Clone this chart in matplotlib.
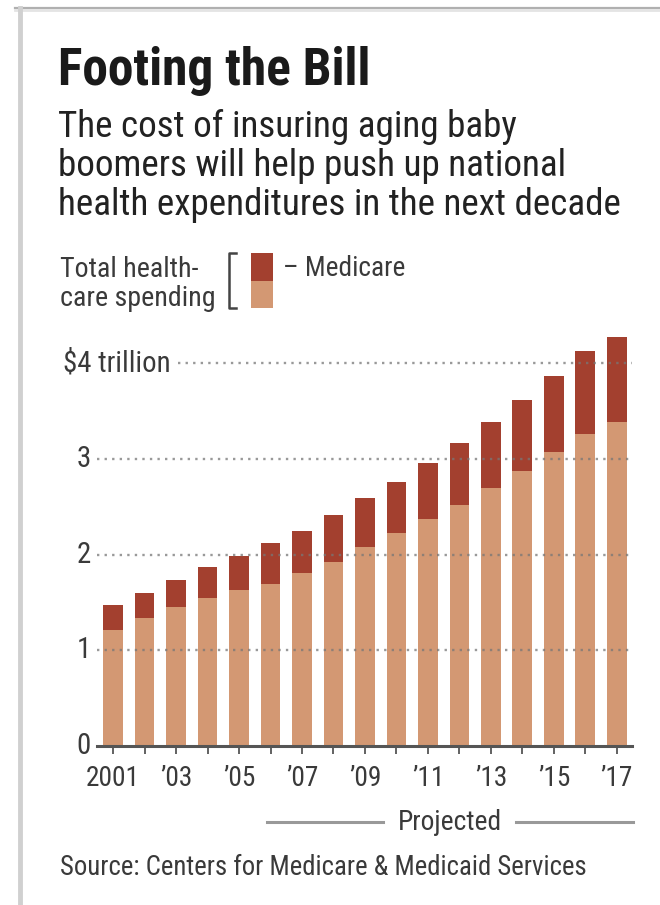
import matplotlib
matplotlib.use("Agg")
import matplotlib.pyplot as plt
from matplotlib import font_manager
from matplotlib.lines import Line2D
from matplotlib.patches import Rectangle
from matplotlib.transforms import blended_transform_factory

# ---------------- data ----------------
years = list(range(2001, 2018))
total = [1.47, 1.60, 1.73, 1.87, 1.98, 2.12, 2.25, 2.41, 2.59, 2.76,
         2.96, 3.16, 3.38, 3.61, 3.86, 4.13, 4.27]
non_medicare = [1.21, 1.34, 1.45, 1.55, 1.63, 1.69, 1.81, 1.92, 2.08, 2.22,
                2.37, 2.52, 2.69, 2.87, 3.07, 3.26, 3.38]
medicare = [t - n for t, n in zip(total, non_medicare)]
tick_years = [2001, 2003, 2005, 2007, 2009, 2011, 2013, 2015, 2017]
tick_labels = ["2001", "\u201903", "\u201905", "\u201907", "\u201909",
               "\u201911", "\u201913", "\u201915", "\u201917"]
y_values = [0, 1, 2, 3, 4]
y_labels = ["0", "1", "2", "3", "$4 trillion"]

title = "Footing the Bill"
subtitle_lines = ["The cost of insuring aging baby",
                  "boomers will help push up national",
                  "health expenditures in the next decade"]
source = "Source: Centers for Medicare & Medicaid Services"

# ---------------- font choice ----------------
fl = font_manager.fontManager.ttflist
names = {f.name for f in fl}
FONT = None
STRETCH = "normal"
for cand in ["Liberation Sans Narrow", "Roboto Condensed", "Open Sans Condensed",
             "Noto Sans Condensed", "DejaVu Sans Condensed", "Arial Narrow"]:
    if cand in names:
        FONT = cand
        break
if FONT is None:
    for fam in ["Roboto", "Noto Sans", "Open Sans", "DejaVu Sans"]:
        if any(f.name == fam and str(f.stretch) in ("condensed", "semi-condensed", "75", "87.5")
               for f in fl):
            FONT, STRETCH = fam, "condensed"
            break
if FONT is None:
    narrow = sorted(n for n in names if ("Narrow" in n or "Condensed" in n) and "Mono" not in n and "Serif" not in n)
    FONT = narrow[0] if narrow else "Roboto"
plt.rcParams["font.family"] = [FONT, "DejaVu Sans"]
plt.rcParams["font.stretch"] = STRETCH

DARK = "#A3402F"
LIGHT = "#D39873"
TXT = "#3a3a3a"
W, H = 660, 905

fig = plt.figure(figsize=(6.6, 9.05), dpi=100)
fig.patch.set_facecolor("white")
renderer = fig.canvas.get_renderer()


def fx(x):
    return x / W


def fy(y):
    return 1 - y / H


def fit_size(text, target_px, weight="normal", start=20.0):
    t = fig.text(0, 0, text, fontsize=start, fontweight=weight)
    w = t.get_window_extent(renderer).width
    t.remove()
    return start * target_px / w


# frame lines
fig.add_artist(Line2D([fx(15), fx(660)], [fy(8), fy(8)], color="#b0b0b0", lw=1.6))
fig.add_artist(Line2D([fx(15), fx(660)], [fy(10.5), fy(10.5)], color="#e4e4e4", lw=2))
fig.add_artist(Line2D([fx(20), fx(20)], [fy(8), fy(905)], color="#d0d0d0", lw=3.5))

# sizes fitted to the reference's text widths
s_title = fit_size(title, 312, weight="bold")
s_sub = fit_size(subtitle_lines[2], 562)
s_src = fit_size(source, 525)
s_leg = fit_size("care spending", 155)
s_ylab = fit_size("$4 trillion", 107)
s_xlab = fit_size("2001", 54)
s_proj = fit_size("Projected", 104)
s_med = fit_size("\u2013 Medicare", 122)

# axes placement
x0, x1 = 97, 632
y_zero, px_per = 746, 95.75
ymax = 4.4
ax = fig.add_axes([fx(x0), fy(y_zero), (x1 - x0) / W, ymax * px_per / H])
ax.set_xlim(2000.49, 2017.48)
ax.set_ylim(0, ymax)

ax.bar(years, non_medicare, width=0.63, color=LIGHT, zorder=2)
ax.bar(years, medicare, bottom=non_medicare, width=0.63, color=DARK, zorder=2)

# gridlines (dotted) drawn over bars
for v in y_values[1:]:
    xmin = (178 - x0) / (x1 - x0) if v == 4 else 0
    ax.axhline(v, xmin=xmin, xmax=1, color="#777777", lw=1.7,
               ls=(0, (1, 2.2)), alpha=0.75, zorder=3)

for s in ["top", "right", "left"]:
    ax.spines[s].set_visible(False)
ax.spines["bottom"].set_color("#555555")
ax.spines["bottom"].set_linewidth(2.2)
ax.spines["bottom"].set_zorder(4)

ax.set_yticks([])
ax.set_xticks(years)
ax.set_xticklabels([tick_labels[tick_years.index(y)] if y in tick_years else "" for y in years])
ax.tick_params(axis="x", length=5.5, width=1.3, color="#555555", pad=8,
               labelsize=s_xlab, labelcolor=TXT)

tr = blended_transform_factory(ax.transAxes, ax.transData)
for v, lab in zip(y_values, y_labels):
    xr = (171 - x0) / (x1 - x0) if v == 4 else (91 - x0) / (x1 - x0)
    ax.text(xr, v, lab, transform=tr, ha="right", va="center",
            fontsize=s_ylab, color=TXT)

# titles
fig.text(fx(58), fy(85), title, fontsize=s_title, fontweight="bold",
         color="#1a1a1a", ha="left", va="baseline")
for i, line in enumerate(subtitle_lines):
    fig.text(fx(58), fy(137 + 39 * i), line, fontsize=s_sub, color="#222222",
             ha="left", va="baseline")

# legend
fig.text(fx(60), fy(277), "Total health-", fontsize=s_leg, color=TXT, va="baseline")
fig.text(fx(60), fy(306), "care spending", fontsize=s_leg, color=TXT, va="baseline")
fig.add_artist(Line2D([fx(236), fx(229), fx(229), fx(236)],
                      [fy(253), fy(253), fy(308), fy(308)],
                      color="#444444", lw=1.8))
fig.add_artist(Rectangle((fx(251), fy(281)), fx(22), 28 / H,
                         facecolor=DARK, edgecolor="none"))
fig.add_artist(Rectangle((fx(251), fy(308)), fx(22), 27 / H,
                         facecolor=LIGHT, edgecolor="none"))
fig.text(fx(283), fy(268), "\u2013 Medicare", fontsize=s_med, color=TXT, va="center")

# projected
fig.add_artist(Line2D([fx(267), fx(383)], [fy(822), fy(822)], color="#999999", lw=2.2))
fig.add_artist(Line2D([fx(516), fx(633)], [fy(822), fy(822)], color="#999999", lw=2.2))
fig.text(fx(450), fy(822), "Projected", fontsize=s_proj, color=TXT, ha="center", va="center")

# source
fig.text(fx(60), fy(875), source, fontsize=s_src, color=TXT, va="baseline")

fig.savefig("out.png", dpi=100, facecolor="white")
